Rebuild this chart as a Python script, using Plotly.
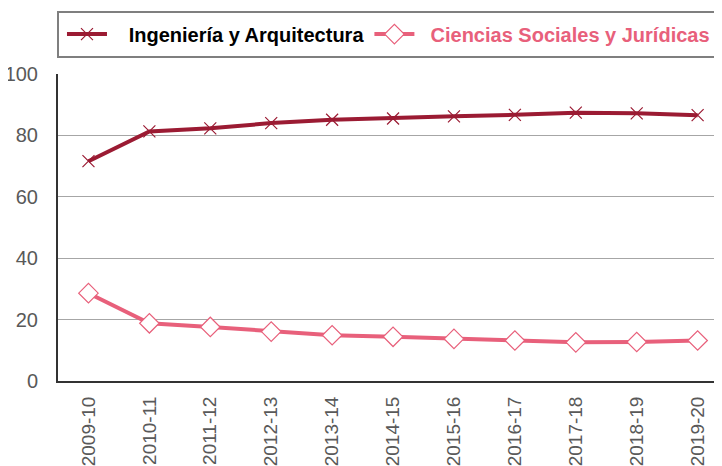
import plotly.graph_objects as go

categories = ["2009-10", "2010-11", "2011-12", "2012-13", "2013-14", "2014-15",
              "2015-16", "2016-17", "2017-18", "2018-19", "2019-20"]
ingenieria = [71.6, 81.3, 82.3, 84.0, 85.1, 85.5, 86.2, 86.7, 87.4, 87.2, 86.6]
ciencias = [28.6, 18.8, 17.6, 16.1, 14.9, 14.4, 13.7, 13.2, 12.6, 12.7, 13.2]

dark = "#9b1b33"
pink = "#e8607b"

fig = go.Figure()
fig.add_trace(go.Scatter(
    x=categories, y=ingenieria, mode="lines+markers",
    name="&nbsp;&nbsp;&nbsp;<b>Ingeniería y Arquitectura</b>",
    line=dict(color=dark, width=4),
    marker=dict(symbol="x-thin-open", size=12, color=dark, line=dict(color=dark, width=1.2)),
))
fig.add_trace(go.Scatter(
    x=categories, y=ciencias, mode="lines+markers",
    name="&nbsp;&nbsp;<b><span style='color:%s'>Ciencias Sociales y Jurídicas</span></b>" % pink,
    line=dict(color=pink, width=4),
    marker=dict(symbol="diamond", size=15, color="white", line=dict(color=pink, width=1.2)),
))

fig.add_shape(type="rect", xref="paper", yref="paper",
              x0=0, x1=1.02, y0=1.055, y1=1.202,
              line=dict(color="#7f7f7f", width=2), fillcolor="rgba(0,0,0,0)")

fig.update_layout(
    width=714, height=458,
    margin=dict(l=50, r=0, t=66, b=85, autoexpand=False),
    paper_bgcolor="white", plot_bgcolor="white",
    font=dict(family="Liberation Sans, Arial, sans-serif", size=18, color="#595959"),
    showlegend=True,
    legend=dict(orientation="h", x=0.006, xanchor="left", y=1.13, yanchor="middle",
                font=dict(size=20, color="black"), bgcolor="rgba(0,0,0,0)",
                itemwidth=40, traceorder="normal"),
    xaxis=dict(type="category", range=[-0.5, 10.4], tickangle=-90,
               showgrid=False, showline=True, linecolor="#333333", linewidth=2,
               ticks="", ticklabelstandoff=6, tickfont=dict(size=19, color="#595959")),
    yaxis=dict(range=[0, 100], dtick=20, showgrid=True, gridcolor="#a6a6a6", gridwidth=1,
               showline=True, linecolor="#333333", linewidth=2, zeroline=False,
               ticks="", ticklabelstandoff=14, tickfont=dict(size=20, color="#595959")),
)

fig.write_html("out.html")
